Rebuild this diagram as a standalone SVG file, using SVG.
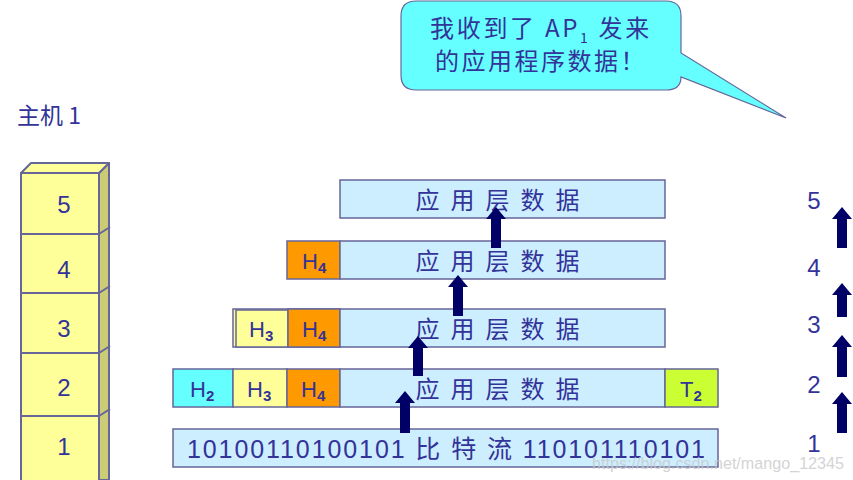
<svg xmlns="http://www.w3.org/2000/svg" width="853" height="480" viewBox="0 0 853 480">
<style>
.t{font-family:"Liberation Sans","Noto Sans CJK SC",sans-serif;fill:#333399}
.cjk{font-family:"Noto Sans CJK SC","Liberation Sans",sans-serif;fill:#333399}
.box{stroke:#666699;stroke-width:1.5}
.data{fill:#CCEEFF}
.arr{fill:#000066}
.stk{stroke:#666699;stroke-width:2;stroke-linejoin:round}
</style>
<rect width="853" height="480" fill="#FFFFFF"/>

<g id="host-label"><text class="cjk" x="17" y="124" font-size="23">主机 1</text></g>

<g id="host-stack">
<polygon class="stk" points="99,173 109,163 109,480 99,480" fill="#CCCC77"/>
<polygon class="stk" points="21,173 31,163 109,163 99,173" fill="#FFFF99"/>
<rect class="stk" x="21" y="173" width="78" height="310" fill="#FFFF99"/>
<g stroke="#666699" stroke-width="2">
<line x1="21" y1="234" x2="99" y2="234"/><line x1="99" y1="234" x2="110" y2="227"/>
<line x1="21" y1="293" x2="99" y2="293"/><line x1="99" y1="293" x2="110" y2="286"/>
<line x1="21" y1="353" x2="99" y2="353"/><line x1="99" y1="353" x2="110" y2="346"/>
<line x1="21" y1="416" x2="99" y2="416"/><line x1="99" y1="416" x2="110" y2="409"/>
</g>
<g class="t" font-size="24" text-anchor="middle">
<text x="64" y="213">5</text><text x="64" y="278">4</text><text x="64" y="337">3</text><text x="64" y="396">2</text><text x="64" y="455">1</text>
</g>
</g>

<g id="bubble">
<path d="M416,1 H666 Q681,1 681,16 V53 L786,118 L681,77 Q681,90 666,90 H416 Q401,90 401,75 V16 Q401,1 416,1 Z" fill="#66FFFF" stroke="#666699" stroke-width="1.2"/>
<text class="cjk" x="430" y="37" font-size="24" letter-spacing="2.7">我收到了 AP<tspan font-size="14" dy="6">1</tspan><tspan dy="-6"> 发来</tspan></text>
<text class="cjk" x="435" y="70" font-size="24" letter-spacing="2.5">的应用程序数据！</text>
</g>

<g id="row5">
<rect class="box data" x="340" y="180" width="325" height="38"/>
<text class="cjk" x="503" y="209" font-size="24" text-anchor="middle" letter-spacing="11">应用层数据</text>
</g>

<g id="row4">
<rect class="box" x="287" y="241" width="53" height="38" fill="#FF9900"/>
<rect class="box data" x="340" y="241" width="325" height="38"/>
<text class="t" x="302" y="269" font-size="22">H<tspan font-size="15" dy="4" font-weight="bold">4</tspan></text>
<text class="cjk" x="503" y="270" font-size="24" text-anchor="middle" letter-spacing="11">应用层数据</text>
</g>

<g id="row3">
<rect class="box" x="233" y="309" width="107" height="38" fill="#FFFF99"/>
<rect class="box" x="236" y="310" width="52" height="37" fill="#FFFF99"/>
<rect class="box" x="288" y="309" width="52" height="38" fill="#FF9900"/>
<rect class="box data" x="340" y="309" width="325" height="38"/>
<text class="t" x="249" y="337" font-size="22">H<tspan font-size="15" dy="4" font-weight="bold">3</tspan></text>
<text class="t" x="302" y="337" font-size="22">H<tspan font-size="15" dy="4" font-weight="bold">4</tspan></text>
<text class="cjk" x="503" y="338" font-size="24" text-anchor="middle" letter-spacing="11">应用层数据</text>
</g>

<g id="row2">
<rect class="box" x="173" y="369" width="60" height="38" fill="#66FFFF"/>
<rect class="box" x="233" y="369" width="54" height="38" fill="#FFFF99"/>
<rect class="box" x="287" y="369" width="53" height="38" fill="#FF9900"/>
<rect class="box data" x="340" y="369" width="325" height="38"/>
<rect class="box" x="665" y="369" width="53" height="38" fill="#CCFF33"/>
<text class="t" x="190" y="397" font-size="22">H<tspan font-size="15" dy="4" font-weight="bold">2</tspan></text>
<text class="t" x="247" y="397" font-size="22">H<tspan font-size="15" dy="4" font-weight="bold">3</tspan></text>
<text class="t" x="301" y="397" font-size="22">H<tspan font-size="15" dy="4" font-weight="bold">4</tspan></text>
<text class="t" x="680" y="397" font-size="22">T<tspan font-size="15" dy="4" font-weight="bold">2</tspan></text>
<text class="cjk" x="503" y="398" font-size="24" text-anchor="middle" letter-spacing="11">应用层数据</text>
</g>

<g id="row1">
<rect class="box data" x="173" y="429" width="545" height="38"/>
<text class="t" x="187" y="458" font-size="25" textLength="518" lengthAdjust="spacing">10100110100101 比 特 流 110101110101</text>
</g>

<g id="connectors">
<path class="arr" d="M496,207 L506,219 L501,219 L501,248 L491,248 L491,219 L486,219 Z"/>
<path class="arr" d="M458,275 L468,287 L463,287 L463,316 L453,316 L453,287 L448,287 Z"/>
<path class="arr" d="M418,336 L428,348 L423,348 L423,376 L413,376 L413,348 L408,348 Z"/>
<path class="arr" d="M405,391 L415,403 L410,403 L410,433 L400,433 L400,403 L395,403 Z"/>
<path class="arr" d="M842,207 L852,219 L847,219 L847,248 L837,248 L837,219 L832,219 Z"/>
<path class="arr" d="M842,283 L852,295 L847,295 L847,317 L837,317 L837,295 L832,295 Z"/>
<path class="arr" d="M842,335 L852,347 L847,347 L847,377 L837,377 L837,347 L832,347 Z"/>
<path class="arr" d="M842,392 L852,404 L847,404 L847,433 L837,433 L837,404 L832,404 Z"/>
</g>

<g id="layer-numbers" class="t" font-size="24" text-anchor="middle">
<text x="814" y="209">5</text><text x="814" y="276">4</text><text x="814" y="333">3</text><text x="814" y="393">2</text><text x="814" y="452">1</text>
</g>

<g id="watermark"><text x="592" y="469" font-family="Liberation Sans, sans-serif" font-size="16" textLength="252" lengthAdjust="spacingAndGlyphs" fill="#C8C8C8" fill-opacity="0.8">https://blog.csdn.net/mango_12345</text></g>
</svg>
